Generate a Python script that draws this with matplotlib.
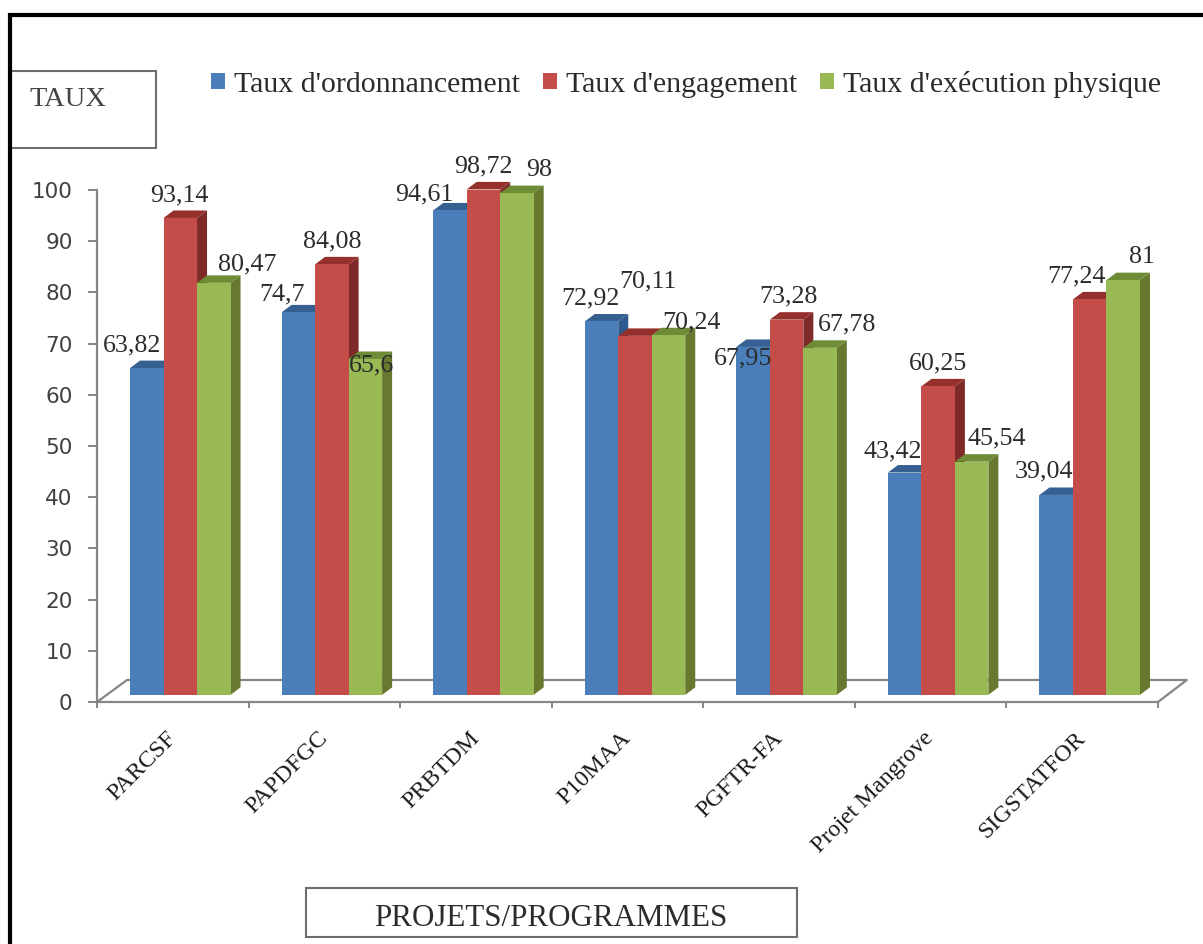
import matplotlib
matplotlib.use('Agg')
import matplotlib.pyplot as plt
from matplotlib.lines import Line2D
from matplotlib.patches import Patch, Polygon, Rectangle
import numpy as np

W, H = 1203, 944

# Data
projets = ['PARCSF', 'PAPDFGC', 'PRBTDM', 'P10MAA', 'PGFTR-FA', 'Projet Mangrove', 'SIGSTATFOR']
ordonnancement = [63.82, 74.7, 94.61, 72.92, 67.95, 43.42, 39.04]
engagement = [93.14, 84.08, 98.72, 70.11, 73.28, 60.25, 77.24]
execution = [80.47, 65.6, 98, 70.24, 67.78, 45.54, 81]
noms = ["Taux d'ordonnancement", "Taux d'engagement", "Taux d'exécution physique"]
y_ticks = list(range(0, 101, 10))

# Label offsets from the bar top, in pixels (hand placed in the original)
off_ordo = [(-15, 23), (-16, 18), (-26, 16), (-11, 23), (-10, -12), (-12, 21), (-12, 23)]
off_enga = [(-1, 23), (0, 23), (0, 23), (13, 54), (2, 23), (0, 23), (-13, 23)]
off_exec = [(33, 18), (6, -6), (22, 23), (23, 13), (27, 23), (25, 23), (19, 23)]

BLUE = ('#4A7EBB', '#2C5A8E', '#376092')
RED = ('#C44D4A', '#7D2A28', '#96302C')
GREEN = ('#98B954', '#66792F', '#6E8B36')
AXIS = '#868686'
SERIF = 'Liberation Serif'

plt.rcParams['font.family'] = SERIF

fig = plt.figure(figsize=(W / 100, H / 100), dpi=100, facecolor='white')
ax = fig.add_axes([97 / W, 1 - 702 / H, (1158 - 97) / W, (702 - 190) / H])
ax.set_xlim(0, 7)
ax.set_ylim(0, 100)
ax.patch.set_alpha(0)

bar_w = 0.221
start = 0.218
base = 1.4      # bars stand a little behind the front edge of the floor
dx, dy = 0.066, 1.46

# Floor
ax.plot([0, 0.198, 7.19, 7], [0, 4.3, 4.3, 0], color=AXIS, lw=1.6, clip_on=False, zorder=1)

x = np.arange(len(projets))
series = [(ordonnancement, BLUE, off_ordo), (engagement, RED, off_enga), (execution, GREEN, off_exec)]
for j, (vals, cols, offs) in enumerate(series):
    left = x + start + j * bar_w
    z = 3 + j
    ax.bar(left, vals, width=bar_w, bottom=base, align='edge', color=cols[0], zorder=z + 0.2)
    for xl, v in zip(left, vals):
        xr = xl + bar_w
        top = v + base
        ax.add_patch(Polygon([(xr, base), (xr + dx, base + dy), (xr + dx, top + dy), (xr, top)],
                             closed=True, fc=cols[1], ec='none', zorder=z, clip_on=False))
        ax.add_patch(Polygon([(xl, top), (xl + dx, top + dy), (xr + dx, top + dy), (xr, top)],
                             closed=True, fc=cols[2], ec='none', zorder=z, clip_on=False))
    # Data labels
    for xl, v, off in zip(left, vals, offs):
        ax.annotate(f'{v:g}'.replace('.', ','), xy=(xl + bar_w / 2, v + base), xytext=off,
                    textcoords='offset pixels', ha='center', va='center',
                    fontsize=18.7, color='#2b2b2b', zorder=10, annotation_clip=False)

# Axes
for s in ['top', 'right']:
    ax.spines[s].set_visible(False)
for s in ['left', 'bottom']:
    ax.spines[s].set_color(AXIS)
    ax.spines[s].set_linewidth(1.6)
ax.set_yticks(y_ticks)
ax.set_yticklabels(y_ticks, family='DejaVu Sans', fontsize=15.5, color='#404040')
ax.tick_params(axis='y', length=6.5, width=1.4, color=AXIS, pad=11)
ax.set_xticks(np.arange(len(projets) + 1))
ax.set_xticklabels([])
ax.tick_params(axis='x', which='major', length=4, width=1.4, color=AXIS)
ax.set_xticks(x + 0.5, minor=True)
ax.set_xticklabels(projets, minor=True, rotation=45, ha='right', va='center',
                   rotation_mode='anchor', fontsize=17.3, color='#1a1a1a')
ax.tick_params(axis='x', which='minor', length=0, pad=24)

# Legend
handles = [Patch(fc=c[0], ec='none') for c in (BLUE, RED, GREEN)]
fig.legend(handles, noms, ncol=3, loc='center left', bbox_to_anchor=(211 / W, 1 - 84 / H),
           frameon=False, fontsize=21.5, handlelength=0.47, handleheight=0.47,
           handletextpad=0.3, columnspacing=0.77, labelcolor='#2b2b2b',
           borderpad=0, borderaxespad=0)


def px_line(xs, ys, **kw):
    fig.add_artist(Line2D([v / W for v in xs], [1 - v / H for v in ys], transform=fig.transFigure, **kw))


def px_box(x0, y0, x1, y1):
    fig.add_artist(Rectangle((x0 / W, 1 - y1 / H), (x1 - x0) / W, (y1 - y0) / H, transform=fig.transFigure,
                             fc='white', ec='#6e6e6e', lw=1.5))


# Boxes and outer frame
px_box(10, 71, 156, 148)
fig.text(68 / W, 1 - 99 / H, 'TAUX', ha='center', va='center', fontsize=20.5, color='#444444')
px_box(306, 888, 797, 937)
fig.text(551 / W, 1 - 919 / H, 'PROJETS/PROGRAMMES', ha='center', va='center', fontsize=22.3, color='#2b2b2b')
px_line([1203, 10, 10], [15, 15, 944], color='black', lw=3, solid_joinstyle='miter')

fig.savefig('out.png', dpi=100, facecolor='white')
plt.close(fig)
